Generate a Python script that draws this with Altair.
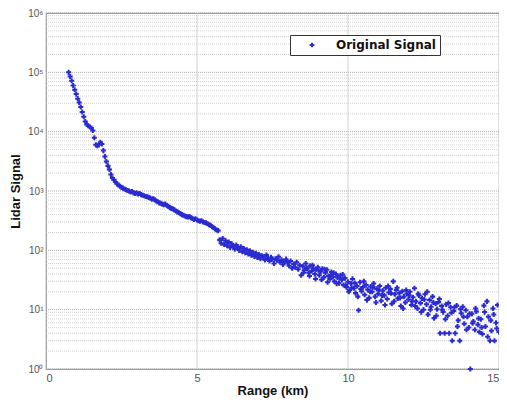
import altair as alt
import pandas as pd

range_km = [
    0.75, 0.80, 0.85, 0.90, 0.95, 1.00, 1.05, 1.10, 1.15, 1.20, 1.25, 1.30, 1.35, 1.40, 1.45, 1.50,
    1.55, 1.60, 1.65, 1.70, 1.75, 1.80, 1.85, 1.90, 1.95, 2.00, 2.05, 2.10, 2.15, 2.20, 2.25, 2.30,
    2.35, 2.40, 2.45, 2.50, 2.55, 2.60, 2.65, 2.70, 2.75, 2.80, 2.85, 2.90, 2.95, 3.00, 3.05, 3.10,
    3.15, 3.20, 3.25, 3.30, 3.35, 3.40, 3.45, 3.50, 3.55, 3.60, 3.65, 3.70, 3.75, 3.80, 3.85, 3.90,
    3.95, 4.00, 4.05, 4.10, 4.15, 4.20, 4.25, 4.30, 4.35, 4.40, 4.45, 4.50, 4.55, 4.60, 4.65, 4.70,
    4.75, 4.80, 4.85, 4.90, 4.95, 5.00, 5.05, 5.10, 5.15, 5.20, 5.25, 5.30, 5.35, 5.40, 5.45, 5.50,
    5.55, 5.60, 5.65, 5.70, 5.75, 5.80, 5.85, 5.90, 5.95, 6.00, 6.05, 6.10, 6.15, 6.20, 6.25, 6.30,
    6.35, 6.40, 6.45, 6.50, 6.55, 6.60, 6.65, 6.70, 6.75, 6.80, 6.85, 6.90, 6.95, 7.00, 7.05, 7.10,
    7.15, 7.20, 7.25, 7.30, 7.35, 7.40, 7.45, 7.50, 7.55, 7.60, 7.65, 7.70, 7.75, 7.80, 7.85, 7.90,
    7.95, 8.00, 8.05, 8.10, 8.15, 8.20, 8.25, 8.30, 8.35, 8.40, 8.45, 8.50, 8.55, 8.60, 8.65, 8.70,
    8.75, 8.80, 8.85, 8.90, 8.95, 9.00, 9.05, 9.10, 9.15, 9.20, 9.25, 9.30, 9.35, 9.40, 9.45, 9.50,
    9.55, 9.60, 9.65, 9.70, 9.75, 9.80, 9.85, 9.90, 9.95, 10.00, 10.05, 10.10, 10.15, 10.20, 10.25, 10.30,
    10.35, 10.40, 10.45, 10.50, 10.55, 10.60, 10.65, 10.70, 10.75, 10.80, 10.85, 10.90, 10.95, 11.00, 11.05, 11.10,
    11.15, 11.20, 11.25, 11.30, 11.35, 11.40, 11.45, 11.50, 11.55, 11.60, 11.65, 11.70, 11.75, 11.80, 11.85, 11.90,
    11.95, 12.00, 12.05, 12.10, 12.15, 12.20, 12.25, 12.30, 12.35, 12.40, 12.45, 12.50, 12.55, 12.60, 12.65, 12.70,
    12.75, 12.80, 12.85, 12.90, 12.95, 13.00, 13.05, 13.10, 13.15, 13.20, 13.25, 13.30, 13.35, 13.40, 13.45, 13.50,
    13.55, 13.60, 13.65, 13.70, 13.75, 13.80, 13.85, 13.90, 13.95, 14.00, 14.05, 14.10, 14.15, 14.20, 14.25, 14.30,
    14.35, 14.40, 14.45, 14.50, 14.55, 14.60, 14.65, 14.70, 14.75, 14.80, 14.85, 14.90, 14.95, 15.00,
]

signal = [
    100000, 85000, 72000, 60000, 51000, 43000, 36000, 31000, 26000, 21500, 17800, 14800, 13200, 12600, 12000, 11500,
    10500, 7900, 6000, 5800, 6000, 6600, 6200, 4800, 3800, 3150, 2650, 2300, 1900, 1650, 1550, 1420,
    1320, 1260, 1200, 1150, 1120, 1080, 1050, 1020, 1000, 960, 980, 930, 910, 930, 890, 910,
    870, 850, 830, 810, 800, 780, 760, 730, 740, 710, 680, 660, 630, 620, 600, 590,
    600, 575, 550, 525, 510, 500, 480, 460, 445, 430, 415, 400, 390, 380, 370, 365,
    370, 355, 345, 330, 340, 325, 315, 310, 315, 300, 295, 290, 280, 270, 265, 250,
    240, 230, 220, 215, 150, 132, 158, 126, 145, 120, 138, 112, 129, 117, 105, 123,
    110, 100, 115, 95, 107, 91, 102, 87, 98, 83, 93, 79, 89, 76, 85, 72,
    81, 78, 69, 83, 74, 66, 76, 71, 60, 72, 68, 78, 63, 69, 58, 65,
    71, 62, 55, 66, 50, 59, 52, 63, 48, 56, 38, 54, 46, 60, 49, 42,
    55, 45, 50, 40, 47, 52, 38, 44, 49, 35, 42, 47, 37, 33, 43, 36,
    30, 40, 35, 28, 38, 32, 26, 34, 24, 29.5, 21.4, 27.5, 33, 23, 19, 25,
    9.8, 29, 20.4, 24, 17.8, 26, 21.9, 15.8, 24.5, 20, 27.5, 16.6, 22.4, 18.6, 25, 14.1,
    20.9, 17.4, 23.4, 15.1, 19.5, 22.4, 12.6, 30, 18.2, 21.4, 15.5, 19, 11.5, 20.4, 16.6, 13.2,
    18.6, 14.8, 20, 12, 16.2, 23, 13.8, 10.5, 17.4, 12.9, 15.5, 10, 18.2, 12.3, 8.3, 14.5,
    11.2, 16.6, 7.2, 12.6, 10.2, 13.5, 4, 11.5, 9.1, 4, 12.3, 7.9, 4, 11, 3, 9.5,
    4, 11.7, 6.6, 3, 8.7, 11.2, 5.8, 9.8, 7.6, 5, 1.0, 8.5, 6.3, 4.6, 9.3, 5.6,
    4.2, 6.9, 3.9, 11.7, 5.2, 13.8, 7.6, 3, 4.4, 10.5, 3, 6, 12, 4.2,
]

# second, interleaved set of range gates in the noisy far field
range_km_b = [
    8.525, 8.625, 8.725, 8.825, 8.925, 9.025, 9.125, 9.225, 9.325, 9.425, 9.525, 9.625, 9.725, 9.825,
    9.925, 10.025, 10.125, 10.225, 10.325, 10.425, 10.525, 10.625, 10.725, 10.825, 10.925, 11.025,
    11.125, 11.225, 11.325, 11.425, 11.525, 11.625, 11.725, 11.825, 11.925, 12.025, 12.125, 12.225,
    12.325, 12.425, 12.525, 12.625, 12.725, 12.825, 12.925, 13.025, 13.125, 13.225, 13.325, 13.425,
    13.525, 13.625, 13.725, 13.825, 13.925, 14.025, 14.125, 14.225, 14.325, 14.425, 14.525, 14.625,
    14.725, 14.825, 14.925,
]
signal_b = [
    42, 51, 37, 56, 33, 46, 32, 48, 29, 38, 42, 27.5, 34, 39,
    26, 20, 23.4, 28, 16.6, 22.4, 30, 14.5, 20, 24, 13.2, 21.4,
    17.4, 12, 25, 19, 13.8, 23.4, 15.8, 10.5, 21.4, 17.4, 13.8, 11.5,
    18.6, 9.1, 14.8, 20, 10, 13.2, 7.9, 15.1, 10, 6.9, 12.9, 8.9,
    11, 5.2, 10.2, 7.6, 4.6, 8.5, 5.9, 10.5, 7.1, 5, 9.1, 3.5,
    6.6, 8.3, 4.8,
]

decades = [1, 10, 100, 1000, 10000, 100000, 1000000]
minor_grid = [m * d for d in [1, 10, 100, 1000, 10000, 100000] for m in [2, 3, 4, 5, 6, 7, 8, 9]]
x_ticks = [0, 5, 10, 15]
x_grid = [5, 10]

df = pd.DataFrame({
    "Range": range_km + range_km_b,
    "Signal": signal + signal_b,
    "series": "Original Signal",
})

xs = alt.Scale(domain=[0, 15], nice=False, zero=False)
ys = alt.Scale(type="log", domain=[1, 1000000], nice=False)

x_axis = alt.Axis(title="Range (km)", values=x_ticks, format="d", grid=False,
                  ticks=False, domain=False, labelFontSize=11, labelColor="#555",
                  labelPadding=3, titleFontSize=13, titleFontWeight="bold",
                  titleFont="Liberation Sans", labelFont="Liberation Sans",
                  titlePadding=1, titleColor="#111")
y_axis = alt.Axis(title="Lidar Signal", values=decades, grid=False, ticks=False, domain=False,
                  labelExpr="'10' + ['⁰','¹','²','³','⁴','⁵','⁶'][round(log(datum.value)/LN10)]",
                  labelFontSize=10, labelColor="#555", labelPadding=3,
                  titleFontSize=13, titleFontWeight="bold", titleFont="Liberation Sans",
                  labelFont="Liberation Sans", titlePadding=5, titleColor="#111")

minor = alt.Chart(pd.DataFrame({"v": minor_grid})).mark_rule(
    color="#c8c8c8", strokeWidth=0.8, strokeDash=[1, 1]
).encode(y=alt.Y("v:Q", scale=ys, axis=y_axis, title="Lidar Signal"))

major = alt.Chart(pd.DataFrame({"v": decades})).mark_rule(
    color="#aaaaaa", strokeWidth=1, strokeDash=[1, 1]
).encode(y=alt.Y("v:Q", scale=ys, axis=y_axis, title="Lidar Signal"))

vgrid = alt.Chart(pd.DataFrame({"v": x_grid})).mark_rule(
    color="#d0d0d0", strokeWidth=1
).encode(x=alt.X("v:Q", scale=xs, axis=x_axis, title="Range (km)"))

points = alt.Chart(df).mark_point(shape="cross", filled=True, size=26, opacity=1).encode(
    x=alt.X("Range:Q", scale=xs, axis=x_axis, title="Range (km)"),
    y=alt.Y("Signal:Q", scale=ys, axis=y_axis, title="Lidar Signal"),
    color=alt.Color(
        "series:N",
        scale=alt.Scale(domain=["Original Signal"], range=["#2b2bd2"]),
        legend=alt.Legend(title=None, orient="none", legendX=244, legendY=22,
                          strokeColor="#333", fillColor="white", padding=4,
                          labelFontSize=12, labelFontWeight="bold", labelFont="DejaVu Sans",
                          labelColor="#111", symbolSize=22, symbolType="cross",
                          symbolOffset=12, labelOffset=18),
    ),
)

chart = alt.layer(minor, major, vgrid, points).properties(
    width=453, height=356,
    autosize=alt.AutoSizeParams(type="none"),
    padding={"left": 38, "top": 5, "right": 0, "bottom": 29},
).configure_view(stroke="#999999", strokeWidth=1.2)

chart.save("out.html", embed_options={"renderer": "svg", "actions": False})
